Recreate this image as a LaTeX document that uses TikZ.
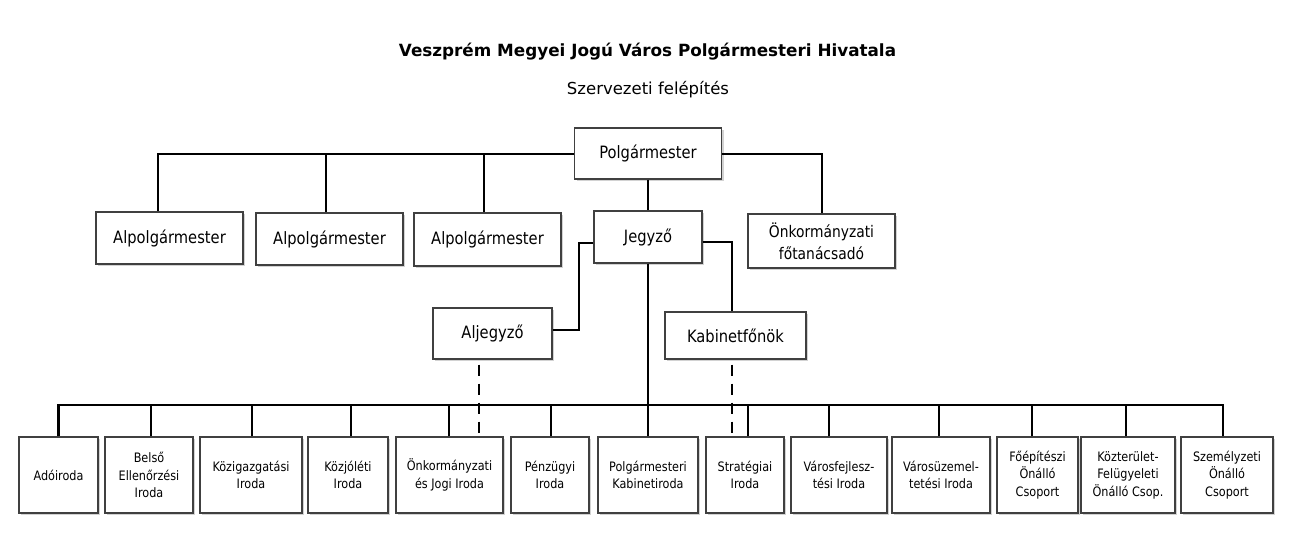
\documentclass[tikz,border=0pt]{standalone}
\usepackage{fontspec}
\setmainfont{DejaVu Sans}[FakeStretch=0.865]
\newfontfamily\titlefont{DejaVu Sans}
\usetikzlibrary{shadows}
\begin{document}
\begin{tikzpicture}[x=1pt,y=-1pt,
  box/.style={draw=black!75, line width=1.1pt, fill=white, inner sep=0pt, align=center,
    drop shadow={shadow xshift=2pt, shadow yshift=-2pt, fill=black!35}},
  topbox/.style={box, minimum height=52pt, font=\fontsize{17}{22}\selectfont},
  botbox/.style={box, minimum height=76pt, font=\fontsize{13}{17.5}\selectfont},
  conn/.style={draw=black, line width=2pt},
  busline/.style={draw=black, line width=2.6pt},
  dashline/.style={draw=black, line width=1.2pt, dash pattern=on 11pt off 8pt, dash phase=-5pt}]
\useasboundingbox (0,0) rectangle (1296,551);
% titles
\node[anchor=base, inner sep=0pt, font=\titlefont\bfseries\fontsize{16.8}{20}\selectfont] (title) at (647.5,57) {Veszprém Megyei Jogú Város Polgármesteri Hivatala};
\node[anchor=base, inner sep=0pt, font=\titlefont\fontsize{16.5}{20}\selectfont] (subtitle) at (648,94) {Szervezeti felépítés};
% top level
\node[topbox, minimum width=147pt, minimum height=51pt] (pm) at (648,153.5) {Polgármester};
\node[topbox, minimum width=147pt] (alp1) at (169.5,238) {Alpolgármester};
\node[topbox, minimum width=147pt] (alp2) at (329.5,239) {Alpolgármester};
\node[topbox, minimum width=147pt, minimum height=53pt] (alp3) at (487.5,239.5) {Alpolgármester};
\node[topbox, minimum width=108pt] (jg) at (648,237) {Jegyző};
\node[topbox, minimum width=147pt, minimum height=54pt, font=\fontsize{16}{22}\selectfont] (onk) at (821.5,241) {Önkormányzati\\főtanácsadó};
\node[topbox, minimum width=119pt, minimum height=51pt] (alj) at (492.5,333.5) {Aljegyző};
\node[topbox, minimum width=141pt, minimum height=47pt] (kab) at (735.5,335.5) {Kabinetfőnök};
% bottom level
\node[botbox, minimum width=79pt] (b1) at (58.5,475) {Adóiroda};
\node[botbox, minimum width=88pt] (b2) at (149,475) {Belső\\Ellenőrzési\\Iroda};
\node[botbox, minimum width=102pt] (b3) at (251,475) {Közigazgatási\\Iroda};
\node[botbox, minimum width=80pt] (b4) at (348,475) {Közjóléti\\Iroda};
\node[botbox, minimum width=107pt] (b5) at (449.5,475) {Önkormányzati\\és Jogi Iroda};
\node[botbox, minimum width=78pt] (b6) at (550,475) {Pénzügyi\\Iroda};
\node[botbox, minimum width=100pt] (b7) at (648,475) {Polgármesteri\\Kabinetiroda};
\node[botbox, minimum width=78pt] (b8) at (745,475) {Stratégiai\\Iroda};
\node[botbox, minimum width=96pt] (b9) at (839,475) {Városfejlesz-\\tési Iroda};
\node[botbox, minimum width=98pt] (b10) at (941,475) {Városüzemel-\\tetési Iroda};
\node[botbox, minimum width=81pt] (b11) at (1037.5,475) {Főépítészi\\Önálló\\Csoport};
\node[botbox, minimum width=94pt] (b12) at (1128,475) {Közterület-\\Felügyeleti\\Önálló Csop.};
\node[botbox, minimum width=92pt] (b13) at (1227,475) {Személyzeti\\Önálló\\Csoport};
% connection points
\coordinate (a1) at ([xshift=-11.5pt]alp1.north);
\coordinate (a2) at ([xshift=-3.5pt]alp2.north);
\coordinate (a3) at ([xshift=-3.5pt]alp3.north);
\coordinate (jl) at (579,243);
\coordinate (ja) at ([yshift=3.5pt]alj.east);
\coordinate (kn) at ([xshift=-3.5pt]kab.north);
\coordinate (busC) at (648,405);
\coordinate (aljd) at ([xshift=-13.5pt]alj.south);
\coordinate (kabd) at ([xshift=-3.5pt]kab.south);
% top connectors
\draw[conn] (pm.west) -| (a1);
\draw[conn] (pm.west) -| (a2);
\draw[conn] (pm.west) -| (a3);
\draw[conn] (pm.east) -| (onk.north);
\draw[conn] (pm.south) -- (jg.north);
\draw[conn] ([yshift=-6pt]jg.west) -- (jl) |- (ja);
\draw[conn] ([yshift=-5pt]jg.east) -| (kn);
% bus
\draw[busline] (jg.south) -- (busC);
\foreach \n/\dx in {b1/0,b2/2,b3/1,b4/3,b5/-0.5,b6/1,b7/0,b8/3,b9/-10,b10/-2,b11/-5.5,b12/-2,b13/-4}{
  \coordinate (d\n) at ([xshift=\dx pt]\n.north);
  \draw[busline] (d\n) |- (busC);
}
% dashed
\draw[dashline] (aljd) -- (aljd |- b5.north);
\draw[dashline] (kabd) -- (kabd |- b8.north);
\end{tikzpicture}
\end{document}
